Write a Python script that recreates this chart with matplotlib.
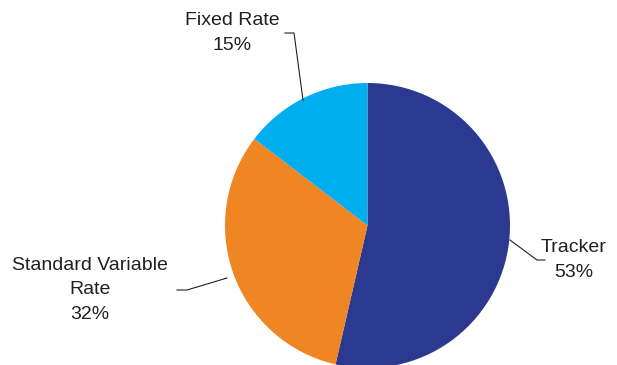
import matplotlib
matplotlib.use('Agg')
import matplotlib.pyplot as plt

plt.rcParams['font.family'] = ['Liberation Sans', 'DejaVu Sans']

# data (wedge sizes as drawn; printed percentages as labelled)
labels = ['Tracker', 'Standard Variable\nRate', 'Fixed Rate']
shares = [53.6, 31.8, 14.6]
pct_labels = ['53%', '32%', '15%']
colors = ['#2b3990', '#ef8523', '#00aeef']

# figure in pixel coordinates (y up)
W, H = 617, 365
fig = plt.figure(figsize=(W / 100, H / 100), dpi=100)
ax = fig.add_axes([0, 0, 1, 1])

cx, cy, r = 367.5, H - 225.5, 142.5
ax.pie(shares, colors=colors, startangle=90, counterclock=False,
       center=(cx, cy), radius=r, frame=True,
       wedgeprops=dict(linewidth=0))
ax.set_xlim(0, W)
ax.set_ylim(0, H)
ax.axis('off')

# label positions and leader lines (pixel coords, y from top)
label_pos = [(574, 260), (90, 290), (232, 33)]
leaders = [
    [(510, 240), (537, 260), (545, 260)],
    [(227, 278), (187, 290), (177, 290)],
    [(303, 100), (294, 33), (285, 33)],
]

for lab, pct, (tx, ty), pts in zip(labels, pct_labels, label_pos, leaders):
    xs = [p[0] for p in pts]
    ys = [H - p[1] for p in pts]
    ax.plot(xs, ys, color='#231f20', lw=0.8)
    ax.text(tx, H - ty, lab + '\n' + pct, ha='center', va='center',
            fontsize=14, color='#231f20', linespacing=1.58)

fig.savefig('out.png', dpi=100)
